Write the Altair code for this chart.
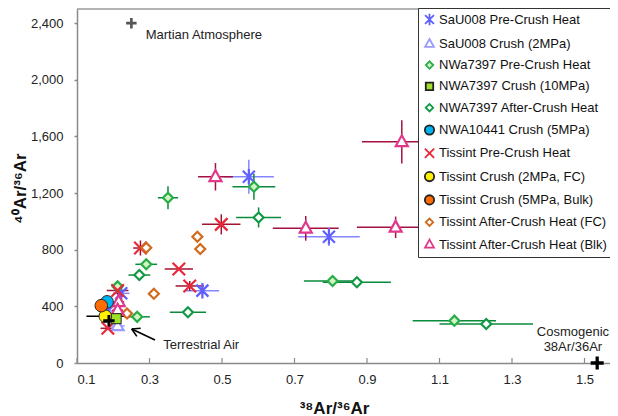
import altair as alt
import pandas as pd

# ---------------- data ----------------
series_names = [
    "SaU008 Pre-Crush Heat",
    "SaU008 Crush (2MPa)",
    "NWa7397 Pre-Crush Heat",
    "NWA7397 Crush (10MPa)",
    "NWA7397 After-Crush Heat",
    "NWA10441 Crush (5MPa)",
    "Tissint Pre-Crush Heat",
    "Tissint Crush (2MPa, FC)",
    "Tissint Crush (5MPa, Bulk)",
    "Tissint After-Crush Heat (FC)",
    "Tissint After-Crush Heat (Blk)",
]

sau_pre_x = [0.574, 0.795, 0.446, 0.222, 0.185]
sau_pre_y = [1315, 892, 511, 492, 367]
sau_pre_xerr = [0.069, 0.085, 0.046, 0.023, 0.02]
sau_pre_yerr = [120, 66, 30, 40, 0]

sau_crush_x = [0.212]
sau_crush_y = [262]
sau_crush_xerr = [0.02]
sau_crush_yerr = [25]

nwa_pre_x = [0.588, 0.351, 0.805, 1.141, 0.212, 0.266, 0.291]
nwa_pre_y = [1245, 1167, 579, 299, 541, 326, 697]
nwa_pre_xerr = [0.059, 0.028, 0.079, 0.115, 0.015, 0.035, 0.03]
nwa_pre_yerr = [92, 82, 0, 0, 0, 0, 0]

nwa_crush_x = [0.208]
nwa_crush_y = [313]
nwa_crush_xerr = [0]
nwa_crush_yerr = [60]

nwa_after_x = [0.601, 0.406, 0.872, 1.229, 0.272]
nwa_after_y = [1028, 358, 570, 275, 621]
nwa_after_xerr = [0.062, 0.05, 0.094, 0.129, 0.03]
nwa_after_yerr = [71, 0, 0, 0, 0]

nwa10441_x = [0.183]
nwa10441_y = [432]

tis_pre_x = [0.498, 0.381, 0.411, 0.275, 0.212, 0.185]
tis_pre_y = [979, 664, 544, 812, 512, 245]
tis_pre_xerr = [0.053, 0.039, 0.039, 0.02, 0.03, 0.02]
tis_pre_yerr = [71, 0, 35, 53, 30, 0]

tis_c2_x = [0.178]
tis_c2_y = [330]
tis_c2_xerr = [0.052]
tis_c2_yerr = [0]

tis_c5_x = [0.167]
tis_c5_y = [405]

tis_fc_x = [0.432, 0.44, 0.291, 0.312, 0.238]
tis_fc_y = [892, 805, 814, 489, 350]

tis_blk_x = [0.482, 0.731, 0.996, 0.979, 0.215, 0.212]
tis_blk_y = [1315, 951, 1562, 958, 432, 373]
tis_blk_xerr = [0.048, 0.091, 0.11, 0.107, 0.015, 0.015]
tis_blk_yerr = [97, 87, 153, 76, 0, 0]

# reference end-members
ref_names = ["Martian Atmosphere", "Terrestrial Air", "Cosmogenic"]
ref_x = [0.25, 0.188, 1.535]
ref_y = [2400, 298.6, 0]

# annotation texts
note_text = ["Martian Atmosphere", "Terrestrial Air", "Cosmogenic", "38Ar/36Ar"]
note_x = [0.2895, 0.338, 1.468, 1.468]
note_y = [2316, 127, 221, 115]
note_align = ["left", "left", "center", "center"]

# arrow (shaft + two head strokes), data coordinates
arrow_x = [0.3152, 0.2509, 0.2509]
arrow_y = [162, 240, 240]
arrow_x2 = [0.2509, 0.265, 0.2757]
arrow_y2 = [240, 188, 245]

x_ticks = [0.1, 0.3, 0.5, 0.7, 0.9, 1.1, 1.3, 1.5]
y_ticks = [0, 400, 800, 1200, 1600, 2000, 2400]

# ---------------- styling ----------------
STAR = "M-1.2,-1.2L1.2,1.2M-1.2,1.2L1.2,-1.2M0,-1.55L0,1.55"
XSHP = "M-1.25,-1.25L1.25,1.25M-1.25,1.25L1.25,-1.25"
TRI = "M0,-1.3L1.2,0.85L-1.2,0.85Z"
CIRC = "M1.25,0A1.25,1.25,0,1,1,-1.25,0A1.25,1.25,0,1,1,1.25,0Z"
PLUS = "M-1,-0.25H-0.25V-1H0.25V-0.25H1V0.25H0.25V1H-0.25V0.25H-1Z"

shape_range = [STAR, TRI, "diamond", "square", "diamond", CIRC, XSHP, CIRC, CIRC, "diamond", TRI]
fill_range = ["transparent", "white", "#d3f3c3", "#9ee02a", "white", "#00b4f0",
              "transparent", "#fff200", "#ff6c00", "white", "white"]
stroke_range = ["#5f5fff", "#9a9aff", "#27ad48", "#222222", "#119a45", "#222222",
                "#e8283a", "#222222", "#222222", "#d2691a", "#e0388c"]
err_colors = ["#8585ff", "#a8a8ff", "#0b8a3b", "#000000", "#0b8a3b", "#000000",
              "#a3122e", "#000000", "#000000", "#d2691a", "#a3123e"]

# ---------------- assemble ----------------
groups = [
    (sau_pre_x, sau_pre_y, sau_pre_xerr, sau_pre_yerr),
    (sau_crush_x, sau_crush_y, sau_crush_xerr, sau_crush_yerr),
    (nwa_pre_x, nwa_pre_y, nwa_pre_xerr, nwa_pre_yerr),
    (nwa_crush_x, nwa_crush_y, nwa_crush_xerr, nwa_crush_yerr),
    (nwa_after_x, nwa_after_y, nwa_after_xerr, nwa_after_yerr),
    (nwa10441_x, nwa10441_y, [0], [0]),
    (tis_pre_x, tis_pre_y, tis_pre_xerr, tis_pre_yerr),
    (tis_c2_x, tis_c2_y, tis_c2_xerr, tis_c2_yerr),
    (tis_c5_x, tis_c5_y, [0], [0]),
    (tis_fc_x, tis_fc_y, [0] * len(tis_fc_x), [0] * len(tis_fc_x)),
    (tis_blk_x, tis_blk_y, tis_blk_xerr, tis_blk_yerr),
]
rows = []
for name, ec, (xs, ys, xe, ye) in zip(series_names, err_colors, groups):
    for i in range(len(xs)):
        rows.append(dict(series=name, x=xs[i], y=ys[i], xerr=xe[i], yerr=ye[i], ecolor=ec))
df = pd.DataFrame(rows)
df["xlo"] = df.x - df.xerr
df["xhi"] = df.x + df.xerr
df["ylo"] = df.y - df.yerr
df["yhi"] = df.y + df.yerr

filled_series = ["NWA7397 Crush (10MPa)", "NWA10441 Crush (5MPa)",
                 "Tissint Crush (2MPa, FC)", "Tissint Crush (5MPa, Bulk)"]
df_line = df[~df.series.isin(filled_series)]
df_fill = df[df.series.isin(filled_series)]

W, H = 533, 354
XMAX = 0.1 + W / 362.5
xscale = alt.Scale(domain=[0.1, XMAX], nice=False, zero=False, padding=0)
yscale = alt.Scale(domain=[0, 2500], nice=False, zero=False, padding=0)

xaxis = alt.Axis(values=x_ticks, format=".1f", title="³⁸Ar/³⁶Ar", grid=False, ticks=False,
                 labelPadding=10, labelFontSize=13, labelColor="#222222",
                 titleFontSize=17, titleFontWeight="bold", titleColor="#111111",
                 titleX=257, titleY=45, titleBaseline="middle", titleAlign="center",
                 domainColor="#8a8a8a", domainWidth=1.5)
yaxis = alt.Axis(values=y_ticks, format=",d", title="⁴⁰Ar/³⁶Ar", grid=False,
                 tickSize=3, tickColor="#8a8a8a", tickWidth=1.5,
                 labelPadding=11, labelFontSize=13, labelColor="#222222",
                 titleFontSize=17, titleFontWeight="bold", titleColor="#111111",
                 titleX=-57, titleY=179, titleAngle=270, titleBaseline="middle",
                 titleAlign="center", domainColor="#8a8a8a", domainWidth=1.5)

X = alt.X("x:Q", scale=xscale, axis=xaxis)
Y = alt.Y("y:Q", scale=yscale, axis=yaxis)

legend = alt.Legend(title=None, orient="none", legendX=341, legendY=-1,
                    strokeColor="#333333", fillColor="white", padding=5,
                    labelFontSize=13, labelColor="#111111", labelLimit=300,
                    symbolSize=55, symbolStrokeWidth=1.8, rowPadding=6.3,
                    labelOffset=3, cornerRadius=0)

shape_enc = alt.Shape("series:N", scale=alt.Scale(domain=series_names, range=shape_range), legend=legend)
fill_enc = alt.Fill("series:N", scale=alt.Scale(domain=series_names, range=fill_range), legend=legend)
stroke_enc = alt.Stroke("series:N", scale=alt.Scale(domain=series_names, range=stroke_range), legend=legend)

tick_df = pd.DataFrame({"x": x_ticks})
xticks_layer = alt.Chart(tick_df).mark_rule(color="#8a8a8a", strokeWidth=1.2).encode(
    x=X, y=alt.value(H), y2=alt.value(H - 5))

frame_top = alt.Chart(tick_df.head(1)).mark_rule(color="#6a6a6a", strokeWidth=1.2).encode(
    x=alt.value(0), x2=alt.value(W), y=alt.value(0))

herr = alt.Chart(df[df.xerr > 0]).mark_rule(strokeWidth=1.5).encode(
    x=alt.X("xlo:Q", scale=xscale, axis=xaxis), x2="xhi:Q", y=Y,
    color=alt.Color("ecolor:N", scale=None))
verr = alt.Chart(df[df.yerr > 0]).mark_rule(strokeWidth=1.5).encode(
    x=X, y=alt.Y("ylo:Q", scale=yscale, axis=yaxis), y2="yhi:Q",
    color=alt.Color("ecolor:N", scale=None))

pts_line = alt.Chart(df_line).mark_point(size=100, strokeWidth=2.2, opacity=1).encode(
    x=X, y=Y, shape=shape_enc, fill=fill_enc, stroke=stroke_enc)
pts_fill = alt.Chart(df_fill).mark_point(size=100, strokeWidth=1, opacity=1).encode(
    x=X, y=Y, shape=shape_enc, fill=fill_enc, stroke=stroke_enc)

ref_df = pd.DataFrame({"name": ref_names, "x": ref_x, "y": ref_y})
mars = alt.Chart(ref_df[ref_df.name == "Martian Atmosphere"]).mark_point(
    shape=PLUS, filled=True, color="#555555", size=110, opacity=1).encode(x=X, y=Y)
terr = alt.Chart(ref_df[ref_df.name == "Terrestrial Air"]).mark_point(
    shape=PLUS, filled=True, color="#000000", size=130, opacity=1).encode(x=X, y=Y)
cosmo = alt.Chart(ref_df[ref_df.name == "Cosmogenic"]).mark_point(
    shape=PLUS, filled=True, color="#000000", size=170, opacity=1).encode(x=X, y=Y)

note_df = pd.DataFrame({"t": note_text, "x": note_x, "y": note_y, "a": note_align})
notes_left = alt.Chart(note_df[note_df.a == "left"]).mark_text(
    align="left", baseline="middle", fontSize=13, color="#222222").encode(x=X, y=Y, text="t:N")
notes_center = alt.Chart(note_df[note_df.a == "center"]).mark_text(
    align="center", baseline="middle", fontSize=13, color="#222222").encode(x=X, y=Y, text="t:N")

arrow_df = pd.DataFrame({"x": arrow_x, "y": arrow_y, "x2": arrow_x2, "y2": arrow_y2})
arrow = alt.Chart(arrow_df).mark_rule(color="#000000", strokeWidth=1.6).encode(
    x=X, y=Y, x2="x2:Q", y2="y2:Q")

chart = alt.layer(
    frame_top, xticks_layer, herr, verr, pts_line, pts_fill, mars, terr, cosmo,
    notes_left, notes_center, arrow
).properties(
    width=W, height=H,
    autosize=alt.AutoSizeParams(type="none"),
    padding={"left": 69, "top": 1, "right": 0, "bottom": 54},
).configure(
    font="Liberation Sans"
).configure_view(
    stroke=None
)

chart.save("out.html", embed_options={"renderer": "svg", "actions": False})
